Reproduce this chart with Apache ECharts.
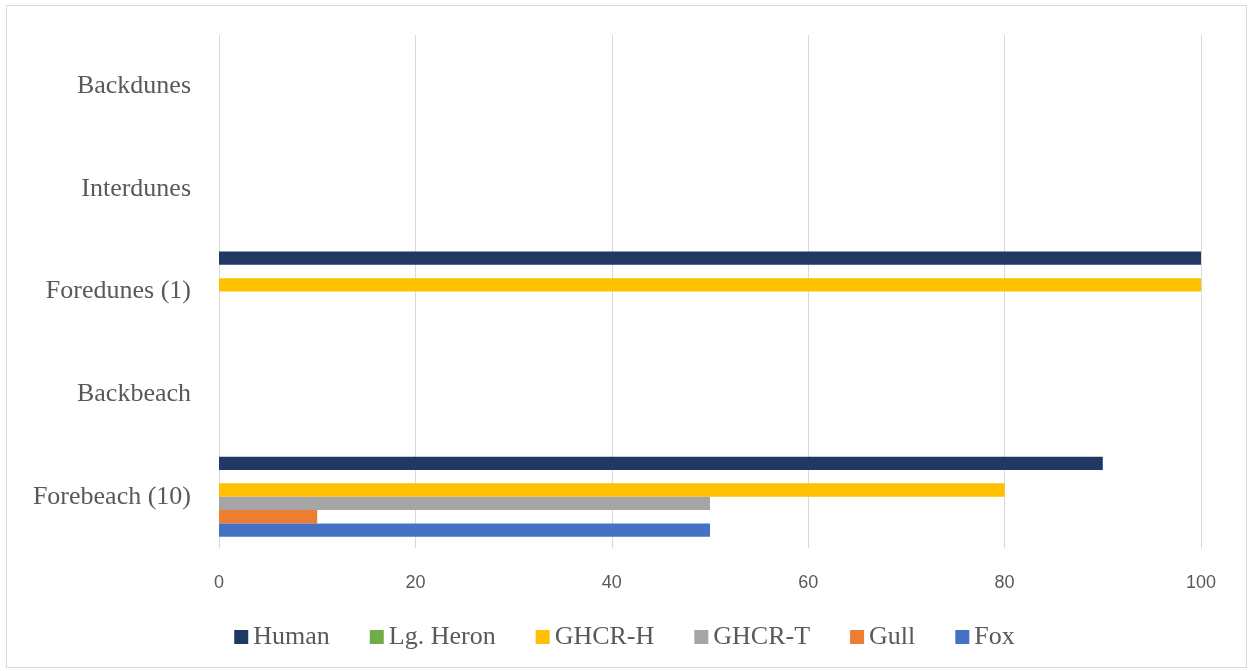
<!DOCTYPE html>
<html>
<head>
<meta charset="utf-8">
<script src="https://cdn.jsdelivr.net/npm/echarts@6/dist/echarts.min.js"></script>
<style>
  html, body { margin: 0; padding: 0; background: #ffffff; }
  #chart { width: 1249px; height: 671px; }
</style>
</head>
<body>
<div id="chart"></div>
<script>
// Habitat zones, listed bottom to top along the category axis
const zones = ['Forebeach (10)', 'Backbeach', 'Foredunes (1)', 'Interdunes', 'Backdunes'];

// Percentage of nests affected, per predator, by zone
const human    = [90, 0, 100, 0, 0];
const lgHeron  = [0, 0, 0, 0, 0];
const ghcrH    = [80, 0, 100, 0, 0];
const ghcrT    = [50, 0, 0, 0, 0];
const gull     = [10, 0, 0, 0, 0];
const fox      = [50, 0, 0, 0, 0];

const xTicks = [0, 20, 40, 60, 80, 100];

const seriesDefs = [
  { name: 'Human',     data: human,   color: '#203864' },
  { name: 'Lg. Heron', data: lgHeron, color: '#70AD47' },
  { name: 'GHCR-H',    data: ghcrH,   color: '#FFC000' },
  { name: 'GHCR-T',    data: ghcrT,   color: '#A5A5A5' },
  { name: 'Gull',      data: gull,    color: '#ED7D31' },
  { name: 'Fox',       data: fox,     color: '#4472C4' }
];

const chart = echarts.init(document.getElementById('chart'));
const serif = '"Liberation Serif", "Times New Roman", serif';

chart.setOption({
  animation: false,
  backgroundColor: '#ffffff',
  graphic: [{
    type: 'rect',
    shape: { x: 6.5, y: 5.5, width: 1240, height: 662 },
    style: { fill: 'none', stroke: '#D9D9D9', lineWidth: 1 },
    silent: true
  }],
  grid: { left: 219, right: 48, top: 35, bottom: 123, containLabel: false },
  legend: {
    data: seriesDefs.map(s => s.name),
    left: 'center',
    top: 619,
    icon: 'rect',
    itemWidth: 14,
    itemHeight: 14,
    itemGap: 40,
    textStyle: { fontFamily: serif, fontSize: 26, color: '#595959' }
  },
  xAxis: {
    type: 'value',
    min: xTicks[0],
    max: xTicks[xTicks.length - 1],
    interval: xTicks[1] - xTicks[0],
    axisLine: { show: false },
    axisTick: { show: false },
    axisLabel: {
      margin: 26,
      fontFamily: '"Liberation Sans", Arial, sans-serif',
      fontSize: 18,
      color: '#595959'
    },
    splitLine: { show: true, lineStyle: { color: '#D9D9D9', width: 1 } }
  },
  yAxis: {
    type: 'category',
    data: zones,
    axisLine: { show: false },
    axisTick: { show: false },
    axisLabel: {
      margin: 28,
      fontFamily: serif,
      fontSize: 26,
      color: '#595959'
    },
    splitLine: { show: false }
  },
  series: seriesDefs.map(s => ({
    name: s.name,
    type: 'bar',
    data: s.data,
    barGap: '0%',
    barCategoryGap: '22%',
    itemStyle: { color: s.color },
    emphasis: { disabled: true }
  }))
});
</script>
</body>
</html>
